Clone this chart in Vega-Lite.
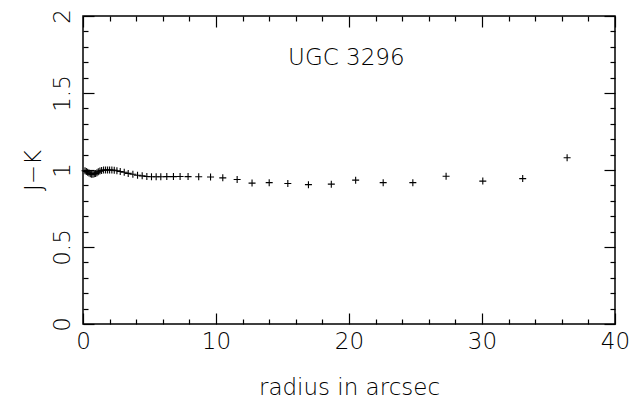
{
  "$schema": "https://vega.github.io/schema/vega-lite/v6.json",
  "width": 532,
  "height": 308,
  "autosize": {"type": "none"},
  "padding": {"left": 83, "top": 16, "right": 14, "bottom": 89},
  "background": "white",
  "config": {
    "view": {"stroke": "black", "strokeWidth": 1.5},
    "font": "DejaVu Sans",
    "axis": {
      "domain": false,
      "grid": false,
      "tickColor": "black",
      "tickWidth": 1.2,
      "labelColor": "black",
      "labelFont": "DejaVu Sans",
      "labelFontWeight": 200,
      "labelFontSize": 23,
      "titleFont": "DejaVu Sans",
      "titleFontWeight": 200,
      "titleFontSize": 23,
      "titleColor": "black"
    }
  },
  "datasets": {
    "profile": [
      {"radius": 0.15, "jk": 0.995},
      {"radius": 0.25, "jk": 0.99},
      {"radius": 0.35, "jk": 0.985},
      {"radius": 0.45, "jk": 0.98},
      {"radius": 0.55, "jk": 0.975},
      {"radius": 0.65, "jk": 0.972},
      {"radius": 0.75, "jk": 0.972},
      {"radius": 0.85, "jk": 0.975},
      {"radius": 0.95, "jk": 0.978},
      {"radius": 1.05, "jk": 0.982},
      {"radius": 1.15, "jk": 0.988},
      {"radius": 1.27, "jk": 0.993},
      {"radius": 1.4, "jk": 0.997},
      {"radius": 1.55, "jk": 1.0},
      {"radius": 1.7, "jk": 1.0},
      {"radius": 1.85, "jk": 1.0},
      {"radius": 2.0, "jk": 1.0},
      {"radius": 2.17, "jk": 1.0},
      {"radius": 2.35, "jk": 0.998},
      {"radius": 2.55, "jk": 0.995},
      {"radius": 2.8, "jk": 0.99},
      {"radius": 3.1, "jk": 0.985},
      {"radius": 3.4, "jk": 0.978},
      {"radius": 3.75, "jk": 0.972},
      {"radius": 4.1, "jk": 0.966},
      {"radius": 4.45, "jk": 0.962},
      {"radius": 4.8, "jk": 0.958},
      {"radius": 5.15, "jk": 0.956},
      {"radius": 5.5, "jk": 0.956},
      {"radius": 5.85, "jk": 0.956},
      {"radius": 6.3, "jk": 0.957},
      {"radius": 6.8, "jk": 0.957},
      {"radius": 7.3, "jk": 0.958},
      {"radius": 7.9, "jk": 0.957},
      {"radius": 8.7, "jk": 0.956},
      {"radius": 9.59, "jk": 0.955},
      {"radius": 10.51, "jk": 0.949},
      {"radius": 11.59, "jk": 0.938},
      {"radius": 12.71, "jk": 0.915},
      {"radius": 14.0, "jk": 0.918},
      {"radius": 15.4, "jk": 0.912},
      {"radius": 16.95, "jk": 0.905},
      {"radius": 18.67, "jk": 0.908},
      {"radius": 20.5, "jk": 0.934},
      {"radius": 22.57, "jk": 0.918},
      {"radius": 24.8, "jk": 0.918},
      {"radius": 27.3, "jk": 0.959},
      {"radius": 30.06, "jk": 0.928},
      {"radius": 33.06, "jk": 0.944},
      {"radius": 36.4, "jk": 1.08}
    ],
    "label": [{"radius": 19.8, "jk": 1.73, "name": "UGC 3296"}]
  },
  "layer": [
    {
      "data": {"name": "profile"},
      "mark": {"type": "point", "shape": "M-1,0H1M0,-1V1", "filled": false, "stroke": "black", "strokeWidth": 1.1, "size": 49, "opacity": 1},
      "encoding": {
        "x": {
          "field": "radius", "type": "quantitative",
          "scale": {"domain": [0, 40], "nice": false, "zero": false},
          "axis": {
            "orient": "bottom",
            "values": [0,2,4,6,8,10,12,14,16,18,20,22,24,26,28,30,32,34,36,38,40],
            "labelExpr": "datum.value % 10 === 0 ? datum.label : ''",
            "tickSize": {"condition": {"test": "datum.value % 10 === 0", "value": -11}, "value": -5},
            "labelPadding": 17,
            "labelFlush": false,
            "labelOverlap": false,
            "title": "radius in arcsec",
            "titlePadding": 17
          }
        },
        "y": {
          "field": "jk", "type": "quantitative",
          "scale": {"domain": [0, 2], "nice": false, "zero": false},
          "axis": {
            "orient": "left",
            "values": [0,0.1,0.2,0.3,0.4,0.5,0.6,0.7,0.8,0.9,1,1.1,1.2,1.3,1.4,1.5,1.6,1.7,1.8,1.9,2],
            "labelExpr": "abs(datum.value*2 - round(datum.value*2)) < 0.01 ? format(datum.value, '') : ''",
            "tickSize": {"condition": {"test": "abs(datum.value*2 - round(datum.value*2)) < 0.01", "value": -11}, "value": -5},
            "labelAngle": -90,
            "labelAlign": "center",
            "labelBaseline": "bottom",
            "labelPadding": 20,
            "labelFlush": false,
            "labelOverlap": false,
            "title": "J−K",
            "titlePadding": 0
          }
        }
      }
    },
    {
      "data": {"name": "profile"},
      "mark": {"type": "point", "opacity": 0},
      "encoding": {
        "x": {
          "field": "radius", "type": "quantitative",
          "axis": {
            "orient": "top",
            "values": [0,2,4,6,8,10,12,14,16,18,20,22,24,26,28,30,32,34,36,38,40],
            "labels": false,
            "tickSize": {"condition": {"test": "datum.value % 10 === 0", "value": -11}, "value": -5},
            "title": null
          }
        },
        "y": {
          "field": "jk", "type": "quantitative",
          "axis": {
            "orient": "right",
            "values": [0,0.1,0.2,0.3,0.4,0.5,0.6,0.7,0.8,0.9,1,1.1,1.2,1.3,1.4,1.5,1.6,1.7,1.8,1.9,2],
            "labels": false,
            "tickSize": {"condition": {"test": "abs(datum.value*2 - round(datum.value*2)) < 0.01", "value": -11}, "value": -5},
            "title": null
          }
        }
      }
    },
    {
      "data": {"name": "label"},
      "mark": {"type": "text", "fontSize": 23, "fontWeight": 200, "font": "DejaVu Sans", "align": "center", "baseline": "middle", "color": "black"},
      "encoding": {
        "x": {"field": "radius", "type": "quantitative", "axis": null},
        "y": {"field": "jk", "type": "quantitative", "axis": null},
        "text": {"field": "name"}
      }
    }
  ],
  "resolve": {"axis": {"x": "independent", "y": "independent"}}
}
